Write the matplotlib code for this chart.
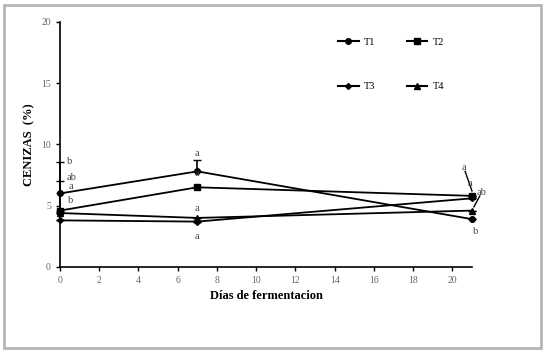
import matplotlib.pyplot as plt
from matplotlib.patches import Rectangle
from matplotlib.lines import Line2D

# --- data ---
dias = [0, 7, 21]
t1 = [6.0, 7.8, 3.9]
t2 = [4.6, 6.5, 5.8]
t3 = [3.8, 3.7, 5.6]
t4 = [4.4, 4.0, 4.6]

# upper error bars (only the upper whisker is visible)
t1_err = [2.6, 0.9, 0.0]
t2_err = [2.4, 0.0, 0.0]
t3_err = [0.0, 0.0, 0.0]
t4_err = [0.0, 0.0, 0.0]

# significance letters: (x, y, text)
letras = [
    (0.5, 8.6, 'b'), (0.6, 7.3, 'ab'), (0.55, 6.6, 'a'), (0.55, 5.4, 'b'),
    (7, 9.3, 'a'), (7, 7.6, 'a'), (7, 4.8, 'a'), (7, 2.5, 'a'),
    (20.6, 8.1, 'a'), (20.9, 6.8, 'a'), (21.5, 6.1, 'ab'), (21.2, 2.9, 'b'),
]
# leader lines for letters at day 21
guias = [((21.0, 20.65), (6.2, 7.8)), ((21.1, 21.4), (4.9, 5.8))]

plt.rcParams['font.family'] = 'Liberation Serif'

fig = plt.figure(figsize=(5.45, 3.54), dpi=100)
fig.patches.append(Rectangle((0.007, 0.017), 0.985, 0.968, transform=fig.transFigure,
                             fill=False, edgecolor='#b5b5b5', linewidth=2))

ax = fig.add_axes([0.110, 0.246, 0.756, 0.692])

series = [
    (t1, t1_err, 'o', 4, 'T1'),
    (t2, t2_err, 's', 5, 'T2'),
    (t3, t3_err, 'D', 3, 'T3'),
    (t4, t4_err, '^', 4.5, 'T4'),
]
handles = {}
for vals, err, mk, ms, lab in series:
    ax.errorbar(dias, vals, yerr=[[0] * len(err), err], color='black', marker=mk,
                markersize=ms, linewidth=1.3, elinewidth=1.2, capsize=3, clip_on=False)
    handles[lab] = Line2D([], [], color='black', marker=mk, markersize=ms, linewidth=1.5)

for x, y, s in letras:
    ax.text(x, y, s, ha='center', va='center', fontsize=7.5, color='#444444')
for gx, gy in guias:
    ax.plot(gx, gy, color='black', linewidth=1, clip_on=False)

ax.set_xlim(0, 21)
ax.set_ylim(0, 20)
ax.set_xticks(range(0, 21, 2))
ax.set_yticks([0, 5, 10, 15, 20])
ax.tick_params(labelsize=7, labelcolor='#666666', color='black', length=3, width=1,
               direction='out')

for s in ['top', 'right']:
    ax.spines[s].set_visible(False)
for s in ['left', 'bottom']:
    ax.spines[s].set_linewidth(1.2)

ax.set_xlabel('Días de fermentacion', fontsize=9, fontweight='bold', labelpad=4)
ax.set_ylabel('CENIZAS  (%)', fontsize=9, fontweight='bold', labelpad=4)

orden = ['T1', 'T3', 'T2', 'T4']
ax.legend([handles[k] for k in orden], orden, ncol=2, loc='upper right',
          bbox_to_anchor=(0.955, 0.975), frameon=False, fontsize=7.5,
          handlelength=2.0, labelspacing=3.4, columnspacing=3.0, handletextpad=0.5)

fig.savefig('out.png', dpi=100)
